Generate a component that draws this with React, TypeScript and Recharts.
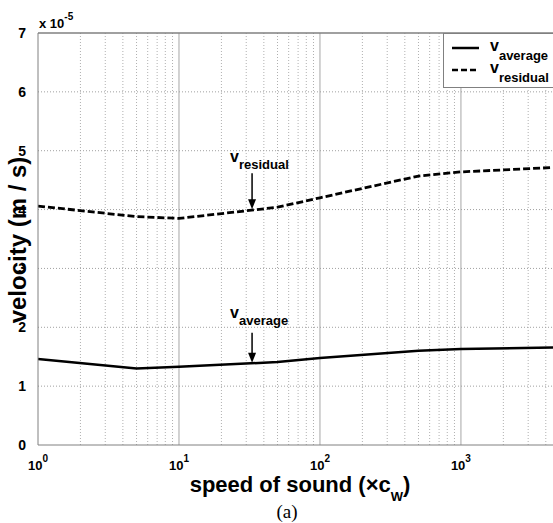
import { LineChart, Line, XAxis, YAxis, ReferenceLine, ReferenceDot } from 'recharts';

// speed of sound as a multiple of c_w (log x axis)
const speeds = [1, 5, 10, 50, 100, 500, 1000, 5000];
// velocities, in units of 1e-5 m/s
const vAverage = [1.46, 1.30, 1.33, 1.41, 1.48, 1.60, 1.63, 1.66];
const vResidual = [4.06, 3.88, 3.85, 4.04, 4.20, 4.57, 4.64, 4.72];

const xTicks = [1, 10, 100, 1000];
const yTicks = [0, 1, 2, 3, 4, 5, 6, 7];
const decadeLines = [10, 100, 1000];
const minorLines = [2, 3, 4, 5, 6, 7, 8, 9, 20, 30, 40, 50, 60, 70, 80, 90, 200, 300, 400, 500, 600, 700, 800, 900, 2000, 3000, 4000];
const gridY = [1, 2, 3, 4, 5, 6];

// arrows pointing at the curves
const notes = [
  { sub: 'residual', x: 33, y: 3.99, top: 37, textUp: 48, dy: 7 },
  { sub: 'average', x: 33, y: 1.38, top: 31, textUp: 46, dy: 7 },
];

const series = [
  { key: 'vAverage', sub: 'average', dash: undefined },
  { key: 'vResidual', sub: 'residual', dash: '6 3' },
];

const data = speeds.map((s, i) => ({ speed: s, vAverage: vAverage[i], vResidual: vResidual[i] }));

const FONT = '"Liberation Sans", Arial, sans-serif';
const AXIS = '#808080';

const exponentOf = (v: number) => Math.round(Math.log10(v));

function XTick({ x, y, payload }: any) {
  return (
    <text x={x} y={y + 17} textAnchor="middle" fontFamily={FONT} fontWeight="bold" fontSize={13} fill="#000">
      <tspan>10</tspan>
      <tspan dy={-8} fontSize={10}>{exponentOf(payload.value)}</tspan>
    </text>
  );
}

function YTick({ x, y, payload }: any) {
  return (
    <text x={x - 4} y={y + 5} textAnchor="end" fontFamily={FONT} fontWeight="bold" fontSize={14} fill="#000">
      {payload.value}
    </text>
  );
}

function LegendBox() {
  return (
    <g transform="translate(443, 33)">
      <rect x={0.5} y={0.5} width={120} height={54} fill="#fff" stroke={AXIS} strokeWidth={1} />
      {series.map((s, i) => {
        const ly = 15 + i * 22;
        return (
          <g key={s.key}>
            <line x1={9} x2={36} y1={ly} y2={ly} stroke="#000" strokeWidth={2.5} strokeDasharray={s.dash} />
            <text x={47} y={ly + 3} fontFamily={FONT} fontWeight="bold" fontSize={16} fill="#000">
              <tspan>v</tspan>
              <tspan dy={9} fontSize={13}>{s.sub}</tspan>
            </text>
          </g>
        );
      })}
    </g>
  );
}

function Arrow(props: any, n: any) {
  const { cx, cy } = props;
  return (
    <g>
      <line x1={cx} x2={cx} y1={cy - n.top} y2={cy - 8} stroke="#000" strokeWidth={1.5} />
      <polygon points={`${cx - 4},${cy - 11} ${cx + 4},${cy - 11} ${cx},${cy - 1}`} fill="#000" />
      <text x={cx - 22} y={cy - n.textUp} fontFamily={FONT} fontWeight="bold" fill="#000" fontSize={16}>
        <tspan>v</tspan>
        <tspan dy={n.dy} fontSize={13}>{n.sub}</tspan>
      </text>
    </g>
  );
}

export default function App() {
  return (
    <div style={{ position: 'absolute', left: 0, top: 0, width: 553, height: 523, overflow: 'hidden', background: '#fff' }}>
      <LineChart width={553} height={523} data={data} margin={{ top: 33, right: 0, left: 0, bottom: 0 }}>
        <XAxis
          dataKey="speed"
          type="number"
          scale="log"
          domain={[1, 4500]}
          allowDataOverflow
          ticks={xTicks}
          tick={<XTick />}
          tickLine={false}
          axisLine={{ stroke: AXIS, strokeWidth: 1 }}
          height={78}
        />
        <YAxis
          type="number"
          domain={[0, 7]}
          ticks={yTicks}
          tick={<YTick />}
          tickLine={false}
          axisLine={{ stroke: AXIS, strokeWidth: 1 }}
          width={38}
        />

        {minorLines.map((v) => (
          <ReferenceLine key={'m' + v} x={v} stroke="#b0b0b0" strokeDasharray="1 2" />
        ))}
        {decadeLines.map((v) => (
          <ReferenceLine key={'d' + v} x={v} stroke="#c4c4c4" strokeWidth={1.5} />
        ))}
        {gridY.map((v) => (
          <ReferenceLine key={'h' + v} y={v} stroke="#a0a0a0" strokeDasharray="1 2" />
        ))}
        <ReferenceLine y={7} stroke={AXIS} strokeWidth={1.5} />

        <Line type="linear" dataKey="vAverage" stroke="#000" strokeWidth={2.5} dot={false} isAnimationActive={false} />
        <Line type="linear" dataKey="vResidual" stroke="#000" strokeWidth={2.8} strokeDasharray="7 3" dot={false} isAnimationActive={false} />

        {notes.map((n) => (
          <ReferenceDot key={n.sub} x={n.x} y={n.y} r={1} shape={(p: any) => Arrow(p, n)} />
        ))}
      </LineChart>

      <svg width={553} height={523} style={{ position: 'absolute', left: 0, top: 0, pointerEvents: 'none' }}>
        <LegendBox />
        <text x={39} y={28} fontFamily={FONT} fontWeight="bold" fontSize={13} fill="#000">
          <tspan>x 10</tspan>
          <tspan dy={-8} fontSize={10}>-5</tspan>
        </text>
        <text
          x={26}
          y={240}
          transform="rotate(-90, 26, 240)"
          textAnchor="middle"
          fontFamily={FONT}
          fontWeight="bold"
          fontSize={24}
          fill="#000"
        >
          velocity (m / s)
        </text>
        <text x={300} y={492} textAnchor="middle" fontFamily={FONT} fontWeight="bold" fontSize={22} fill="#000">
          <tspan>speed of sound (×c</tspan>
          <tspan dy={9} fontSize={13}>W</tspan>
          <tspan dy={-9}>)</tspan>
        </text>
        <text x={287} y={518} textAnchor="middle" fontFamily='"Liberation Serif", "Times New Roman", serif' fontSize={19} fill="#000">
          (a)
        </text>
      </svg>
    </div>
  );
}
